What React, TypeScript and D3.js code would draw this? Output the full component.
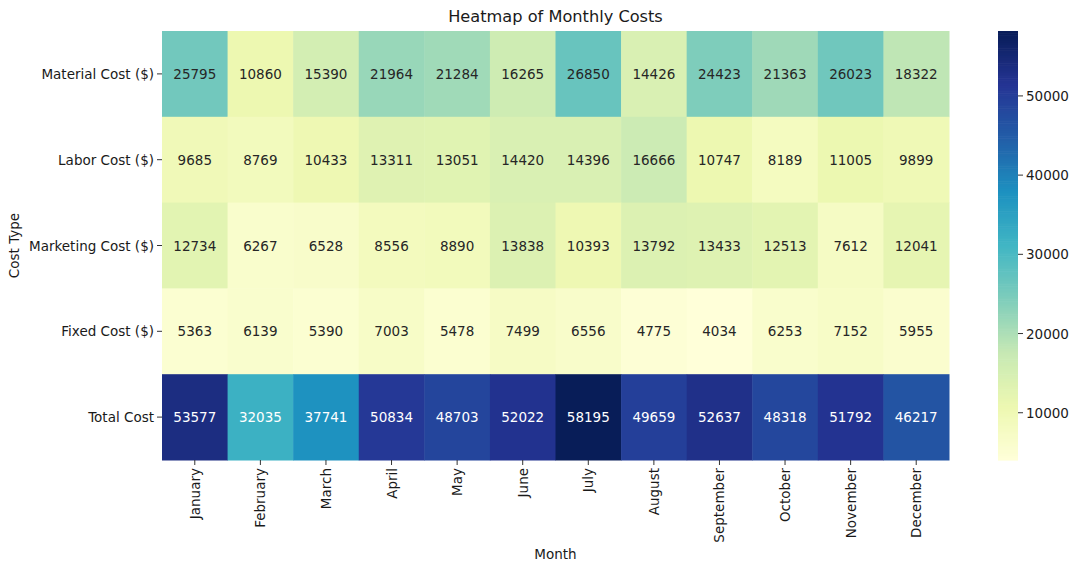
import * as d3 from 'd3';
import React from 'react';

const months = ['January', 'February', 'March', 'April', 'May', 'June', 'July', 'August', 'September', 'October', 'November', 'December'];
const costTypes = ['Material Cost ($)', 'Labor Cost ($)', 'Marketing Cost ($)', 'Fixed Cost ($)', 'Total Cost'];

const materialCost = [25795, 10860, 15390, 21964, 21284, 16265, 26850, 14426, 24423, 21363, 26023, 18322];
const laborCost = [9685, 8769, 10433, 13311, 13051, 14420, 14396, 16666, 10747, 8189, 11005, 9899];
const marketingCost = [12734, 6267, 6528, 8556, 8890, 13838, 10393, 13792, 13433, 12513, 7612, 12041];
const fixedCost = [5363, 6139, 5390, 7003, 5478, 7499, 6556, 4775, 4034, 6253, 7152, 5955];
const totalCost = [53577, 32035, 37741, 50834, 48703, 52022, 58195, 49659, 52637, 48318, 51792, 46217];

const colorbarTicks = [10000, 20000, 30000, 40000, 50000];

// matplotlib YlGnBu = linear interpolation of the 9 colorbrewer stops
const ylgnbu = ['#ffffd9', '#edf8b1', '#c7e9b4', '#7fcdbb', '#41b6c4', '#1d91c0', '#225ea8', '#253494', '#081d58'];

const W = 1080;
const H = 573;
const left = 162;
const right = 949;
const top = 31;
const bottom = 460;
const cbLeft = 998;
const cbRight = 1018;
const font = 'DejaVu Sans, sans-serif';
const fs = 13.5;

function luminance(c: string) {
    const rgb = d3.rgb(c);
    const f = (v: number) => {
        const s = v / 255;
        return s <= 0.03928 ? s / 12.92 : Math.pow((s + 0.055) / 1.055, 2.4);
    };
    return 0.2126 * f(rgb.r) + 0.7152 * f(rgb.g) + 0.0722 * f(rgb.b);
}

export default function App() {
    const rows = [materialCost, laborCost, marketingCost, fixedCost, totalCost];
    const all = rows.flat();
    const vmin = d3.min(all) as number;
    const vmax = d3.max(all) as number;

    const x = d3.scaleBand().domain(months).range([left, right]);
    const y = d3.scaleBand().domain(costTypes).range([top, bottom]);
    const t = d3.scaleLinear().domain([vmin, vmax]).range([0, 1]).clamp(true);
    const cmap = d3.scaleLinear<string>()
        .domain(ylgnbu.map((_, i) => i / (ylgnbu.length - 1)))
        .range(ylgnbu)
        .interpolate(d3.interpolateRgb);
    const color = (v: number) => cmap(t(v));
    const cbY = d3.scaleLinear().domain([vmin, vmax]).range([bottom, top]);

    const cbSteps = d3.range(0, 200);
    const stepH = (bottom - top) / cbSteps.length;

    return (
        <svg width={W} height={H} style={{ position: 'absolute', left: 0, top: 0, background: '#fff' }} fontFamily={font}>
            <text x={(left + right) / 2} y={22} textAnchor="middle" fontSize={16.2} fill="#1a1a1a">Heatmap of Monthly Costs</text>

            {rows.map((row, ri) => row.map((v, ci) => {
                const fill = color(v);
                const textFill = luminance(fill) > 0.408 ? '#262626' : '#ffffff';
                return (
                    <g key={`${ri}-${ci}`}>
                        <rect x={x(months[ci])} y={y(costTypes[ri])} width={x.bandwidth() + 0.5} height={y.bandwidth() + 0.5} fill={fill} />
                        <text x={(x(months[ci]) as number) + x.bandwidth() / 2} y={(y(costTypes[ri]) as number) + y.bandwidth() / 2}
                            textAnchor="middle" dominantBaseline="central" fontSize={fs} fill={textFill}>{v}</text>
                    </g>
                );
            }))}

            {costTypes.map((c) => {
                const cy = (y(c) as number) + y.bandwidth() / 2;
                return (
                    <g key={c}>
                        <line x1={left - 5} x2={left} y1={cy} y2={cy} stroke="#333" strokeWidth={1} />
                        <text x={left - 8} y={cy} textAnchor="end" dominantBaseline="central" fontSize={fs} fill="#1a1a1a">{c}</text>
                    </g>
                );
            })}

            {months.map((m) => {
                const cx = (x(m) as number) + x.bandwidth() / 2;
                return (
                    <g key={m}>
                        <line x1={cx} x2={cx} y1={bottom} y2={bottom + 5} stroke="#333" strokeWidth={1} />
                        <text transform={`translate(${cx},${bottom + 8}) rotate(-90)`} textAnchor="end" dominantBaseline="central" fontSize={fs} fill="#1a1a1a">{m}</text>
                    </g>
                );
            })}

            <text x={(left + right) / 2} y={559} textAnchor="middle" fontSize={fs} fill="#1a1a1a">Month</text>
            <text transform={`translate(19,${(top + bottom) / 2}) rotate(-90)`} textAnchor="middle" fontSize={fs} fill="#1a1a1a">Cost Type</text>

            {cbSteps.map((i) => {
                const v0 = vmin + (vmax - vmin) * i / cbSteps.length;
                const v1 = vmin + (vmax - vmin) * (i + 1) / cbSteps.length;
                return <rect key={i} x={cbLeft} y={cbY(v1)} width={cbRight - cbLeft} height={stepH + 0.6} fill={color((v0 + v1) / 2)} />;
            })}
            {colorbarTicks.map((v) => (
                <g key={v}>
                    <line x1={cbRight} x2={cbRight + 5} y1={cbY(v)} y2={cbY(v)} stroke="#333" strokeWidth={1} />
                    <text x={cbRight + 8} y={cbY(v)} dominantBaseline="central" fontSize={fs} fill="#1a1a1a">{v}</text>
                </g>
            ))}
        </svg>
    );
}
